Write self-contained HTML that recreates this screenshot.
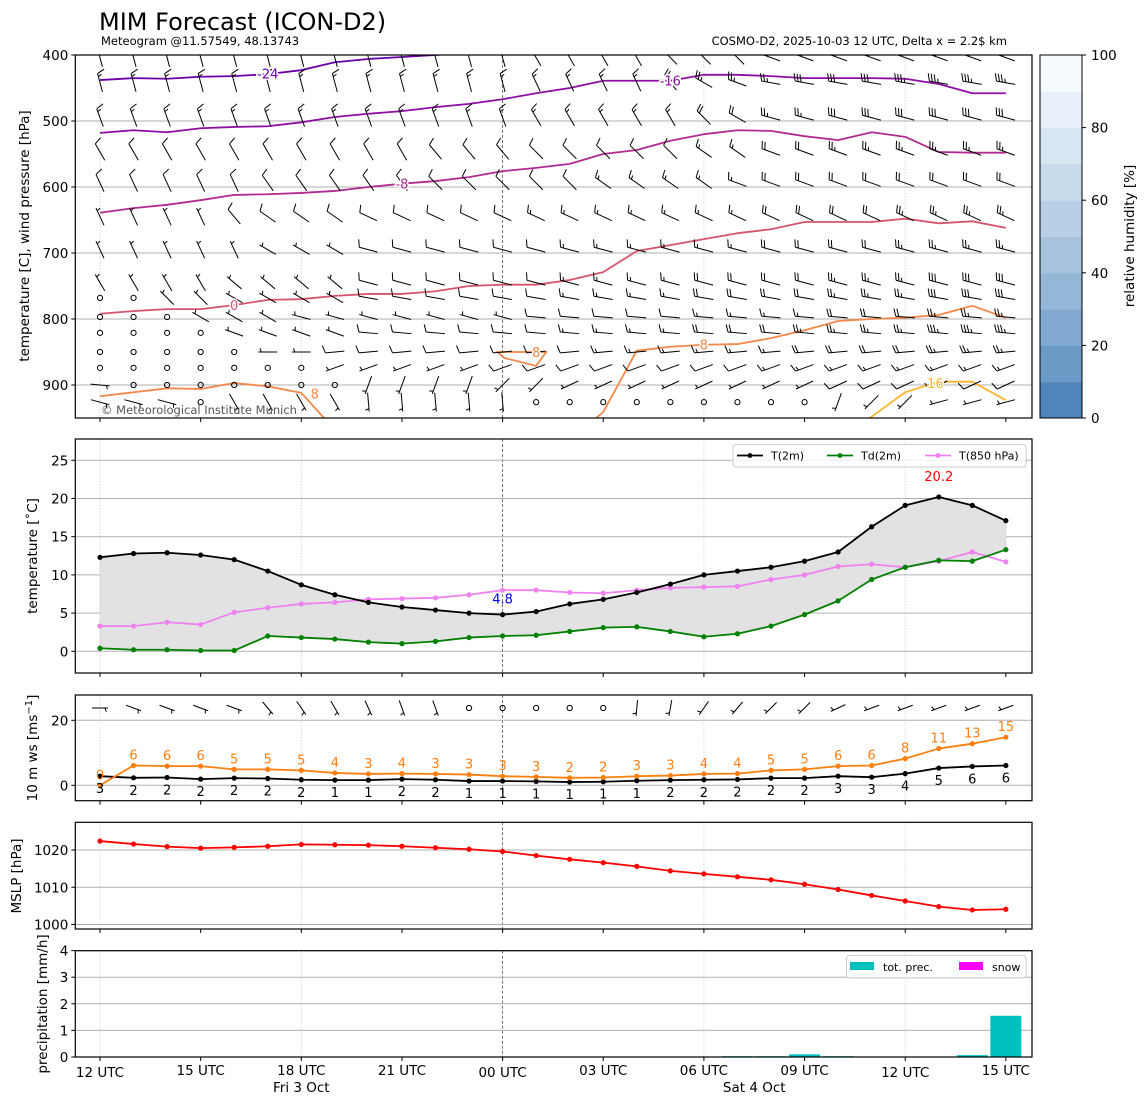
<!DOCTYPE html>
<html><head><meta charset="utf-8"><title>MIM Forecast (ICON-D2) meteogram</title>
<style>
html,body{margin:0;padding:0;background:#fff;}
svg{display:block;font-family:"DejaVu Sans","Liberation Sans",sans-serif;}
</style></head>
<body>
<svg id="chart" xmlns="http://www.w3.org/2000/svg" width="1148" height="1105" viewBox="0 0 1148 1105">
<text x="99" y="30" font-size="24" fill="#000">MIM Forecast (ICON-D2)</text>
<text x="101" y="45" font-size="11.5" fill="#000">Meteogram @11.57549, 48.13743</text>
<text x="1007" y="45" font-size="11.5" fill="#000" text-anchor="end">COSMO-D2, 2025-10-03 12 UTC, Delta x = 2.2$ km</text>
</svg>
<script>
// ---------- data ----------
const hours = [0,1,2,3,4,5,6,7,8,9,10,11,12,13,14,15,16,17,18,19,20,21,22,23,24,25,26,27];
const xTickHours = [0,3,6,9,12,15,18,21,24,27];
const xTickLabels = ["12 UTC","15 UTC","18 UTC","21 UTC","00 UTC","03 UTC","06 UTC","09 UTC","12 UTC","15 UTC"];
const dayLabels = ["Fri 3 Oct","Sat 4 Oct"];
const dayLabelHours = [6,19.5];

// panel 1: isotherms (pressure hPa per hour)
const isoLevels = [-24,-16,-8,0,8,8,16];
const isoHours = [
  [0,1,2,3,4,5,6,7,8,9,10,11],
  hours,
  hours,
  hours,
  [0,1,2,3,4,5,6,7],
  [14,15,16,17,18,19,20,21,22,23,24,25,26,27],
  [22,23,24,25,26,27]
];
const isoP = [
  [438,435,436,433,432,429,423,411,406,403,400,397],
  [518,514,517,511,509,508,502,494,489,485,479,474,467,458,450,439,439,439,430,430,432,435,435,435,436,444,458,458],
  [639,632,627,620,612,611,609,606,600,595,591,585,576,571,565,550,544,530,520,514,515,523,529,517,524,547,548,548],
  [792,788,785,785,779,771,770,765,762,762,758,750,748,748,741,729,697,688,679,670,664,653,653,653,648,655,652,662],
  [917,911,905,906,897,902,912,968],
  [983,941,848,842,839,838,829,817,803,800,798,794,780,798],
  [983,948,911,895,895,923]
];
const islandHours = [11.85,13.3,13.0,12.05];
const islandP = [850,850,871,859];
const isoLabelText = ["-24","-16","-8","0","8","8","8","16"];
const isoLabelHour = [5,17,9,4,6.4,13.0,18,24.9];
const isoLabelP = [428,439,595,779,913,850,839,897];
const isoLabelLevel = [-24,-16,-8,0,8,8,8,16];

// panel 1: wind barbs (direction deg, speed kt)
const windLevels = [404,442,495,547,594,645,695,745,768,797,821,850,874,900,926];
const windDir = [
[345,345,345,345,345,345,345,345,345,345,345,345,345,330,330,330,330,315,315,315,290,290,290,290,290,290,290,290],
[345,345,345,345,345,345,345,345,345,345,345,345,345,335,335,335,335,320,300,290,280,280,280,280,280,280,280,280],
[340,340,340,340,340,340,340,340,340,340,340,340,340,330,330,330,330,330,315,300,285,285,285,285,285,285,285,285],
[330,330,330,330,330,330,330,330,330,330,320,320,320,315,315,315,315,315,305,305,290,290,290,290,290,290,290,290],
[335,335,335,335,335,325,325,325,325,325,315,315,315,315,315,305,305,305,305,290,290,290,290,290,290,290,290,290],
[335,335,335,335,320,305,305,305,295,295,295,295,295,295,295,295,295,295,295,295,295,295,295,295,295,295,295,295],
[335,335,335,335,335,300,300,300,285,285,285,285,285,285,285,285,285,285,285,285,285,285,285,285,285,285,285,285],
[330,330,330,330,310,310,310,310,285,285,285,285,285,285,285,285,285,285,285,285,285,285,285,285,285,285,285,285],
[0,0,315,315,300,300,300,300,280,280,280,280,280,280,280,280,280,280,280,280,280,280,280,280,280,280,280,280],
[0,0,0,300,300,300,285,285,285,285,285,285,285,275,275,275,275,275,275,275,275,275,275,275,275,275,275,275],
[0,0,0,0,290,290,290,290,275,275,275,275,275,275,275,275,275,275,275,275,275,275,275,275,275,275,275,275],
[0,0,0,0,0,270,270,265,265,265,265,265,265,265,265,265,265,265,265,265,265,265,265,265,265,265,265,265],
[0,0,0,0,0,0,0,250,250,250,250,250,250,250,250,250,250,250,250,250,250,250,250,250,250,250,250,250],
[95,0,0,0,0,0,0,0,200,200,200,200,225,225,245,245,245,245,245,245,245,245,245,245,245,245,245,245],
[105,105,105,0,150,150,150,150,175,175,175,175,175,0,0,0,0,0,0,0,0,0,200,225,225,255,255,255]
];
const windSpd = [
[15,15,15,15,15,15,15,15,15,15,15,15,15,15,15,15,15,20,20,20,30,30,30,30,30,30,30,30],
[15,15,15,15,15,15,15,15,15,15,15,15,15,15,15,15,15,20,25,25,25,30,30,30,35,35,35,35],
[15,15,15,15,15,15,15,15,15,15,15,15,15,15,15,15,15,15,20,20,25,25,30,30,30,30,30,30],
[10,10,10,10,10,10,10,10,10,10,10,10,10,10,10,10,10,10,15,15,20,20,25,25,25,25,25,25],
[10,10,10,10,10,10,10,10,10,10,10,10,10,10,10,15,15,15,15,15,20,20,20,20,20,20,20,20],
[5,5,5,5,10,10,10,10,10,10,10,10,10,15,15,15,15,15,15,15,20,20,20,20,25,25,25,25],
[5,5,5,5,5,5,5,5,10,10,10,10,10,10,15,15,15,15,15,15,20,20,20,20,25,25,25,25],
[5,5,5,5,5,5,5,5,10,10,10,10,10,10,15,15,15,15,20,20,20,20,25,25,25,30,30,30],
[0,0,5,5,5,5,5,5,10,10,10,10,10,10,15,15,15,15,20,20,20,20,25,25,25,30,30,30],
[0,0,0,5,5,5,5,5,5,5,5,5,5,10,10,10,10,10,15,15,15,15,20,20,20,25,25,25],
[0,0,0,0,5,5,5,5,10,10,10,10,10,10,15,15,15,15,20,20,20,25,25,25,25,35,35,35],
[0,0,0,0,0,5,5,10,10,10,10,10,10,10,10,15,15,15,15,15,15,20,20,20,20,25,25,25],
[0,0,0,0,0,0,0,5,5,5,5,5,10,10,10,10,10,10,10,10,15,15,15,15,15,15,15,15],
[5,0,0,0,0,0,0,0,5,5,5,5,5,5,5,5,5,5,5,5,5,5,10,10,10,10,10,10],
[5,5,5,0,5,5,5,5,5,5,5,5,5,0,0,0,0,0,0,0,0,0,5,5,5,5,5,5]
];
const rhTicks = [0,20,40,60,80,100];

// panel 2: temperatures
const t2m  = [12.3,12.8,12.9,12.6,12.0,10.5,8.7,7.4,6.4,5.8,5.4,5.0,4.8,5.2,6.2,6.8,7.7,8.8,10.0,10.5,11.0,11.8,13.0,16.3,19.1,20.2,19.1,17.1];
const td2m = [0.4,0.2,0.2,0.1,0.1,2.0,1.8,1.6,1.2,1.0,1.3,1.8,2.0,2.1,2.6,3.1,3.2,2.6,1.9,2.3,3.3,4.8,6.6,9.4,11.0,11.9,11.8,13.3];
const t850 = [3.3,3.3,3.8,3.5,5.1,5.7,6.2,6.4,6.8,6.9,7.0,7.4,8.0,8.0,7.7,7.6,8.0,8.3,8.4,8.5,9.4,10.0,11.1,11.4,11.0,11.8,13.0,11.7];
const tTicks = [0,5,10,15,20,25];

// panel 3: 10 m wind
const gust = [0.0,6.1,5.9,5.9,4.9,4.9,4.6,3.8,3.5,3.6,3.5,3.3,2.8,2.6,2.3,2.4,2.8,3.0,3.5,3.6,4.6,4.9,5.9,6.1,8.2,11.3,12.8,14.8];
const gustLabels = ["0","6","6","6","5","5","5","4","3","4","3","3","3","3","2","2","3","3","4","4","5","5","6","6","8","11","13","15"];
const ws10 = [2.8,2.3,2.4,1.9,2.2,2.1,1.7,1.6,1.6,1.9,1.7,1.3,1.3,1.2,1.0,1.1,1.4,1.6,1.7,1.8,2.2,2.2,2.8,2.5,3.6,5.3,5.8,6.1];
const wsLabels = ["3","2","2","2","2","2","2","1","1","2","2","1","1","1","1","1","1","2","2","2","2","2","3","3","4","5","6","6"];
const sfcDir = [90,110,110,110,110,140,145,150,155,160,160,0,0,0,0,0,185,190,215,220,225,225,245,250,250,250,250,250];
const sfcSpd = [5,5,5,5,5,5,5,5,5,5,5,0,0,0,0,0,5,5,5,5,5,5,5,5,5,5,5,5];
const wsTicks = [0,20];

// panel 4: MSLP
const mslp = [1022.4,1021.6,1020.9,1020.5,1020.7,1021.0,1021.5,1021.4,1021.3,1021.0,1020.6,1020.2,1019.6,1018.5,1017.5,1016.6,1015.6,1014.4,1013.6,1012.8,1012.0,1010.8,1009.4,1007.8,1006.3,1004.8,1003.9,1004.1];
const pTicks = [1000,1010,1020];

// panel 5: precipitation
const precipHours = [19,20,21,22,26,27];
const precipVals = [0.03,0.03,0.1,0.03,0.07,1.55];
const precTicks = [0,1,2,3,4];

// ---------- helpers ----------
const NS = "http://www.w3.org/2000/svg";
const svg = document.getElementById("chart");
function mk(tag, attrs, parent){
  const e = document.createElementNS(NS, tag);
  for (const k in attrs) e.setAttribute(k, attrs[k]);
  (parent || svg).appendChild(e);
  return e;
}
const X0 = 75.3, X1 = 1032;
const X = h => 100 + h * 33.55;
const panels = {
  p1:{top:55, bot:418, y: p => 55 + (p - 400) * 0.66},
  p2:{top:439, bot:673, y: t => 651.3 - t * 7.64},
  p3:{top:695, bot:800.7, y: v => 785.3 - v * 3.25},
  p4:{top:822.3, bot:929, y: v => 850 - (v - 1020) * 3.725},
  p5:{top:950.7, bot:1057, y: v => 1057 - v * 26.6}
};
const plasma = {"-24":"#6a00a8","-16":"#8f0da4","-8":"#b12a90","0":"#d5546e","8":"#f48849","16":"#fdb42f"};

function clipFor(id, P){
  const cp = mk("clipPath", {id:id});
  mk("rect", {x:X0, y:P.top, width:X1 - X0, height:P.bot - P.top}, cp);
}

function gridAndFrame(P, ticks, labels, name){
  const g = mk("g", {});
  
  
  [0,6,18,24].forEach(h => {
    const l = mk("line", {x1:X(h), x2:X(h), y1:P.top, y2:P.bot, stroke:"#d0d0d0", "stroke-width":0.8, "stroke-dasharray":"1.5,1.5"}, g);
    
    
  });
  const mid = mk("line", {x1:X(12), x2:X(12), y1:P.top, y2:P.bot, stroke:"#555", "stroke-width":0.8, "stroke-dasharray":"3,2"}, g);
  
  
  ticks.forEach((t, i) => {
    const y = P.y(t);
    const gl = mk("line", {x1:X0, x2:X1, y1:y, y2:y, stroke:"#b0b0b0", "stroke-width":1}, g);
    
    
    mk("line", {x1:X0 - 4, x2:X0, y1:y, y2:y, stroke:"#000", "stroke-width":1}, g);
    const tx = mk("text", {x:X0 - 7, y:y + 5, "font-size":13.5, "text-anchor":"end", fill:"#000"}, g);
    tx.textContent = labels[i];
    
    
  });
  xTickHours.forEach(h => {
    mk("line", {x1:X(h), x2:X(h), y1:P.bot, y2:P.bot + 4, stroke:"#000", "stroke-width":1}, g);
  });
  return g;
}
function frame(P, name){
  const r = mk("rect", {x:X0, y:P.top, width:X1 - X0, height:P.bot - P.top, fill:"none", stroke:"#000", "stroke-width":1.2});
  
  
}
function ylabel(text, x, y, name){
  const t = mk("text", {x:x, y:y, "font-size":13.5, "text-anchor":"middle", transform:`rotate(-90 ${x} ${y})`, fill:"#000"});
  t.textContent = text;
  
  
  return t;
}
function barb(parent, x, y, dir, spd, L){
  const g = mk("g", {stroke:"#000", "stroke-width":1, fill:"none"}, parent);
  if (spd < 2.5) {
    mk("circle", {cx:x, cy:y, r:2.6}, g);
    return g;
  }
  const r = dir * Math.PI / 180;
  const sx = Math.sin(r), sy = -Math.cos(r);
  const bx = -sy, by = sx;
  const x0 = x - sx * L / 2, y0 = y - sy * L / 2;
  const x1 = x + sx * L / 2, y1 = y + sy * L / 2;
  mk("line", {x1:x0, y1:y0, x2:x1, y2:y1}, g);
  let v = Math.round(spd / 5) * 5;
  const flags = Math.floor(v / 50); v -= flags * 50;
  const full = Math.floor(v / 10); v -= full * 10;
  const half = v >= 5;
  let pos = 0;
  const H = 7.5, sp = 3;
  for (let i = 0; i < flags; i++) {
    const ax = x1 - sx * pos, ay = y1 - sy * pos;
    const cx = x1 - sx * (pos + 4), cy = y1 - sy * (pos + 4);
    mk("polygon", {points:`${ax},${ay} ${ax + bx * H},${ay + by * H} ${cx},${cy}`, fill:"#000"}, g);
    pos += 5;
  }
  for (let i = 0; i < full; i++) {
    const ax = x1 - sx * pos, ay = y1 - sy * pos;
    mk("line", {x1:ax, y1:ay, x2:ax + bx * H + sx * 2.5, y2:ay + by * H + sy * 2.5}, g);
    pos += sp;
  }
  if (half) {
    if (flags === 0 && full === 0) pos = sp;
    const ax = x1 - sx * pos, ay = y1 - sy * pos;
    mk("line", {x1:ax, y1:ay, x2:ax + bx * H / 2 + sx * 1.25, y2:ay + by * H / 2 + sy * 1.25}, g);
  }
  return g;
}
function polyline(parent, xs, ys, color, w){
  return mk("polyline", {points: xs.map((x, i) => x + "," + ys[i]).join(" "), fill:"none", stroke:color, "stroke-width":w || 1.8, "stroke-linejoin":"round"}, parent);
}
function markers(parent, xs, ys, color, r){
  xs.forEach((x, i) => {
    const c = mk("circle", {cx:x, cy:ys[i], r:r || 2.6, fill:color}, parent);
    
    
  });
}

// ---------- panel 1 ----------
const P1 = panels.p1;
clipFor("clip1", P1);
gridAndFrame(P1, [400,500,600,700,800,900], ["400","500","600","700","800","900"], "upper-air-panel");
const iso = mk("g", {"clip-path":"url(#clip1)"});


isoLevels.forEach((lev, k) => {
  const pl = polyline(iso, isoHours[k].map(X), isoP[k].map(P1.y), plasma[String(lev)], 1.8);
  
  
});
const isl = mk("polygon", {points: islandHours.map((h, i) => X(h) + "," + P1.y(islandP[i])).join(" "), fill:"none", stroke:plasma["8"], "stroke-width":1.8}, iso);


const barbs1 = mk("g", {"clip-path":"url(#clip1)"});


windLevels.forEach((p, r) => {
  hours.forEach((h, c) => {
    const b = barb(barbs1, X(h), P1.y(p), windDir[r][c], windSpd[r][c], 19);
    
    
  });
});
isoLabelText.forEach((t, i) => {
  const tx = mk("text", {x:X(isoLabelHour[i]), y:P1.y(isoLabelP[i]) + 5, "font-size":13, "text-anchor":"middle", fill:plasma[String(isoLabelLevel[i])], stroke:"#fff", "stroke-width":3, "paint-order":"stroke"});
  tx.textContent = t;
  
  
});
const copy = mk("text", {x:101, y:414, "font-size":11.5, fill:"#555"});
copy.textContent = "\u00a9 Meteorological Institute Munich";


frame(P1, "upper-air-panel");
ylabel("temperature [C], wind pressure [hPa]", 29, 236, "upper-air-y-axis-title");

// colorbar
const cb = mk("g", {});


const cbTop = 55, cbBot = 418, cbX = 1040, cbW = 42;
const cLo = [79,134,186], cHi = [247,251,255];
for (let i = 0; i < 10; i++) {
  const f = i / 9;
  const col = cLo.map((c, j) => Math.round(c + (cHi[j] - c) * Math.pow(f, 0.8)));
  const y0 = cbBot - (i + 1) * (cbBot - cbTop) / 10;
  const rr = mk("rect", {x:cbX, y:y0, width:cbW, height:(cbBot - cbTop) / 10 + 0.5, fill:`rgb(${col.join(",")})`}, cb);
  
  
}
mk("rect", {x:cbX, y:cbTop, width:cbW, height:cbBot - cbTop, fill:"none", stroke:"#000", "stroke-width":1}, cb);
rhTicks.forEach(t => {
  const y = cbBot - t / 100 * (cbBot - cbTop);
  mk("line", {x1:cbX + cbW, x2:cbX + cbW + 4, y1:y, y2:y, stroke:"#000"}, cb);
  const tx = mk("text", {x:cbX + cbW + 9, y:y + 5, "font-size":13.5, fill:"#000"}, cb);
  tx.textContent = String(t);
  
  
});
ylabel("relative humidity [%]", 1134, 236, "colorbar-title");

// ---------- panel 2 ----------
const P2 = panels.p2;
clipFor("clip2", P2);
gridAndFrame(P2, tTicks, tTicks.map(String), "temperature-panel");
const g2 = mk("g", {"clip-path":"url(#clip2)"});


const fillPts = hours.map((h, i) => X(h) + "," + P2.y(t2m[i])).concat(hours.slice().reverse().map(h => X(h) + "," + P2.y(td2m[h])));
const band = mk("polygon", {points:fillPts.join(" "), fill:"#e2e2e2", stroke:"#d6d6d6", "stroke-width":0.8}, g2);


[[t850,"#ee82ee","t850-line"],[td2m,"#008000","td2m-line"],[t2m,"#000","t2m-line"]].forEach(([arr, col, nm]) => {
  const xs = hours.map(X), ys = arr.map(P2.y);
  const pl = polyline(g2, xs, ys, col, 1.8);
  
  
  markers(g2, xs, ys, col, 2.6);
});
const iMin = t2m.indexOf(Math.min(...t2m)), iMax = t2m.indexOf(Math.max(...t2m));
const tmin = mk("text", {x:X(hours[iMin]), y:P2.y(t2m[iMin]) - 11, "font-size":13, "text-anchor":"middle", fill:"#0000ff"});
tmin.textContent = t2m[iMin].toFixed(1);


const tmax = mk("text", {x:X(hours[iMax]), y:P2.y(t2m[iMax]) - 16, "font-size":13, "text-anchor":"middle", fill:"#ff0000"});
tmax.textContent = t2m[iMax].toFixed(1);


frame(P2, "temperature-panel");
ylabel("temperature [\u02daC]", 37, 556, "temperature-y-axis-title");
const lg = mk("g", {});


mk("rect", {x:733, y:444.5, width:293, height:22.5, rx:3, fill:"#fff", "fill-opacity":0.8, stroke:"#ccc"}, lg);
[[737,"#000","T(2m)"],[827,"#008000","Td(2m)"],[925,"#ee82ee","T(850 hPa)"]].forEach(([x, col, lab]) => {
  const e = mk("g", {}, lg);
  
  
  mk("line", {x1:x, x2:x + 26, y1:455.5, y2:455.5, stroke:col, "stroke-width":1.8}, e);
  mk("circle", {cx:x + 13, cy:455.5, r:2.4, fill:col}, e);
  const t = mk("text", {x:x + 34, y:459.5, "font-size":11, fill:"#000"}, e);
  t.textContent = lab;
});

// ---------- panel 3 ----------
const P3 = panels.p3;
clipFor("clip3", P3);
gridAndFrame(P3, wsTicks, wsTicks.map(String), "wind-panel");
const g3 = mk("g", {"clip-path":"url(#clip3)"});


hours.forEach((h, i) => {
  const b = barb(g3, X(h), 708, sfcDir[i], sfcSpd[i], 16);
  
  
});
[[ws10,"#000","mean-wind-line"],[gust,"#ff7f0e","gust-line"]].forEach(([arr, col, nm]) => {
  const xs = hours.map(X), ys = arr.map(P3.y);
  const pl = polyline(g3, xs, ys, col, 1.8);
  
  
  markers(g3, xs, ys, col, 2.6);
});
hours.forEach((h, i) => {
  const a = mk("text", {x:X(h), y:P3.y(gust[i]) - 6, "font-size":13, "text-anchor":"middle", fill:"#ff7f0e"}, g3);
  a.textContent = gustLabels[i];
  
  
  const b = mk("text", {x:X(h), y:P3.y(ws10[i]) + 17, "font-size":13, "text-anchor":"middle", fill:"#000"}, g3);
  b.textContent = wsLabels[i];
  
  
});
frame(P3, "wind-panel");
const wl = ylabel("10 m ws [ms", 37, 748, "wind-y-axis-title");
const sup = mk("tspan", {dy:-5, "font-size":10}, wl); sup.textContent = "\u22121";
const clo = mk("tspan", {dy:5}, wl); clo.textContent = "]";

// ---------- panel 4 ----------
const P4 = panels.p4;
clipFor("clip4", P4);
gridAndFrame(P4, pTicks, pTicks.map(String), "pressure-panel");
const g4 = mk("g", {"clip-path":"url(#clip4)"});


{
  const xs = hours.map(X), ys = mslp.map(P4.y);
  const pl = polyline(g4, xs, ys, "#ff0000", 1.8);
  
  
  markers(g4, xs, ys, "#ff0000", 2.6);
}
frame(P4, "pressure-panel");
ylabel("MSLP [hPa]", 21, 876, "mslp-y-axis-title");

// ---------- panel 5 ----------
const P5 = panels.p5;
clipFor("clip5", P5);
gridAndFrame(P5, precTicks, precTicks.map(String), "precip-panel");
const g5 = mk("g", {"clip-path":"url(#clip5)"});


precipHours.forEach((h, i) => {
  const y = P5.y(precipVals[i]);
  const r = mk("rect", {x:X(h) - 15.5, y:y, width:31, height:P5.bot - y, fill:"#00bfbf"}, g5);
  
  
});
frame(P5, "precip-panel");
ylabel("precipitation [mm/h]", 47, 1004, "precip-y-axis-title");
const lg5 = mk("g", {});


mk("rect", {x:846.5, y:955.5, width:179.5, height:22.5, rx:3, fill:"#fff", "fill-opacity":0.8, stroke:"#ccc"}, lg5);
[[850,"#00bfbf","tot. prec."],[959,"#ff00ff","snow"]].forEach(([x, col, lab]) => {
  const e = mk("g", {}, lg5);
  
  
  mk("rect", {x:x, y:962, width:24, height:8, fill:col}, e);
  const t = mk("text", {x:x + 33, y:971, "font-size":11, fill:"#000"}, e);
  t.textContent = lab;
});
xTickHours.forEach((h, i) => {
  const low = (h % 12 === 0);
  const t = mk("text", {x:X(h), y:low ? 1077 : 1075, "font-size":13.5, "text-anchor":"middle", fill:"#000"});
  t.textContent = xTickLabels[i];
  
  
});
dayLabels.forEach((d, i) => {
  const t = mk("text", {x:X(dayLabelHours[i]), y:1092, "font-size":13.5, "text-anchor":"middle", fill:"#000"});
  t.textContent = d;
  
  
});
</script>
</body></html>
